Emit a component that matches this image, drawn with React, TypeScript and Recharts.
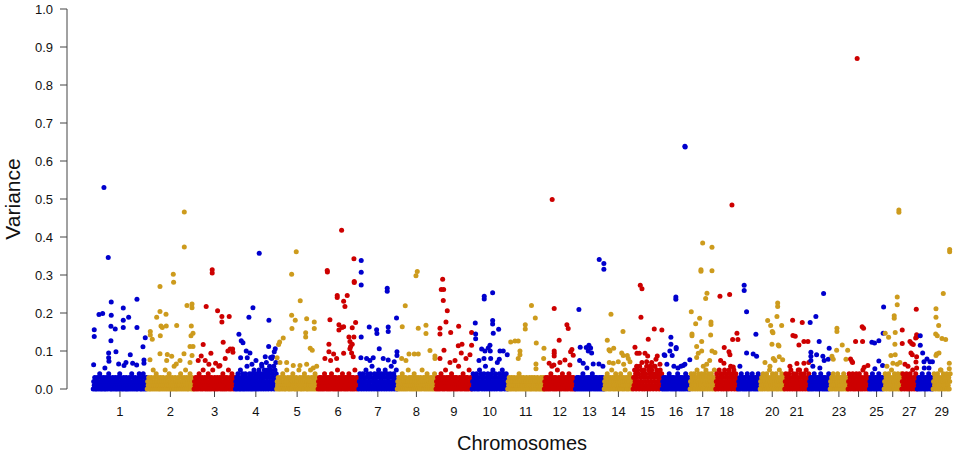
import { ScatterChart, Scatter, XAxis, YAxis, Label } from 'recharts';

const FONT = '"Liberation Sans", Arial, sans-serif';

// chromosomes and their lengths (Mb)
const CHROMOSOMES = [1, 2, 3, 4, 5, 6, 7, 8, 9, 10, 11, 12, 13, 14, 15, 16, 17, 18, 19, 20, 21, 22, 23, 24, 25, 26, 27, 28, 29];
const LENGTHS_MB = [158.3, 137.1, 121.4, 120.7, 121.2, 119.5, 112.6, 113.4, 105.7, 104.3, 107.3, 91.2, 84.2, 84.6, 85.3, 81.7, 75.2, 66.0, 64.1, 72.0, 71.6, 61.4, 52.5, 62.7, 42.9, 51.7, 45.4, 46.3, 51.5];
const TICK_LABELS = ['1', '2', '3', '4', '5', '6', '7', '8', '9', '10', '11', '12', '13', '14', '15', '16', '17', '18', '', '20', '21', '', '23', '', '25', '', '27', '', '29'];
const Y_TICKS = [0, 0.1, 0.2, 0.3, 0.4, 0.5, 0.6, 0.7, 0.8, 0.9, 1.0];
const COLORS = ['#0000CD', '#CD9B1D', '#CD0000'];

// dense low-variance SNPs, in hundredths, evenly along each chromosome
const BAND = [
  [0, 2, 1, 3, 0, 1, 2, 0, 3, 1, 2, 0, 1, 4, 2, 0, 3, 1, 0, 2, 1, 3, 0, 2, 1, 0, 3, 2, 1, 0, 2, 4, 1, 3, 0, 2, 1, 0, 2, 3, 1, 0, 2, 1, 3, 0, 1, 2, 0, 3, 1, 2, 0, 4, 1, 3, 2, 0, 1, 2, 0, 3, 1, 2, 0, 1, 3, 0, 2, 1, 0, 2, 3, 1, 0, 2, 1, 4, 0, 3, 1, 2, 0, 1, 3, 2, 0, 1, 2, 0, 3, 1, 4, 2, 0, 1, 3, 0, 2, 1, 4, 0, 3, 1, 2, 0, 1, 3],
  [0, 2, 1, 3, 0, 1, 2, 0, 3, 1, 2, 0, 5, 1, 3, 0, 2, 1, 4, 0, 2, 1, 3, 0, 1, 2, 0, 3, 1, 2, 0, 1, 3, 2, 0, 1, 5, 2, 0, 3, 1, 2, 0, 1, 4, 3, 0, 2, 1, 0, 3, 1, 2, 0, 6, 1, 3, 0, 2, 1, 0, 2, 3, 1, 0, 2, 1, 4, 0, 3, 1, 2, 0, 1, 3, 2, 0, 5, 1, 3, 0, 2, 1, 0, 3, 2, 4, 1, 0, 2, 3, 1, 0, 2],
  [0, 2, 1, 3, 0, 2, 3, 1, 0, 2, 4, 1, 3, 0, 2, 1, 3, 0, 5, 2, 1, 3, 0, 2, 1, 3, 0, 2, 4, 1, 0, 3, 2, 1, 0, 3, 2, 5, 1, 0, 2, 3, 1, 0, 2, 1, 3, 0, 2, 6, 1, 3, 0, 2, 1, 3, 0, 4, 2, 1, 0, 3, 2, 1, 0, 3, 2, 1, 5, 0, 2, 3, 1, 0, 2, 4, 1, 3, 0, 2, 1, 3],
  [0, 2, 1, 3, 0, 2, 4, 1, 3, 0, 2, 1, 5, 0, 3, 2, 1, 4, 0, 2, 3, 1, 0, 2, 4, 1, 3, 0, 6, 2, 1, 3, 0, 2, 4, 1, 3, 0, 2, 1, 4, 0, 3, 2, 1, 5, 0, 3, 2, 4, 1, 0, 3, 2, 4, 1, 0, 5, 2, 3, 1, 4, 0, 2, 6, 3, 1, 4, 0, 2, 5, 3, 1, 4, 0, 7, 2, 3, 5, 1, 0, 4, 2, 6, 3, 1, 5, 0, 8, 2, 4, 3, 1, 6, 0, 2, 5, 3, 7, 4],
  [0, 2, 1, 3, 0, 1, 2, 0, 3, 1, 2, 0, 4, 1, 2, 0, 3, 1, 0, 2, 5, 1, 3, 0, 2, 1, 0, 3, 2, 1, 0, 2, 4, 1, 3, 0, 2, 1, 0, 3, 2, 1, 0, 2, 5, 1, 3, 0, 2, 1, 0, 3, 2, 1, 0, 4, 2, 1, 3, 0, 2, 1, 0, 3, 1, 2, 0, 5, 1, 3, 0, 2, 1, 3, 0, 2, 4, 1, 0, 3, 2, 1],
  [0, 2, 1, 3, 0, 2, 3, 1, 0, 2, 1, 3, 0, 4, 2, 1, 3, 0, 2, 1, 3, 0, 2, 3, 1, 0, 2, 4, 1, 3, 0, 2, 1, 3, 0, 2, 3, 1, 0, 5, 2, 1, 3, 0, 2, 1, 3, 0, 2, 4, 1, 3, 0, 2, 1, 3, 0, 2, 3, 1, 0, 2, 4, 1, 3, 0, 2, 1, 3, 0, 2, 3, 1, 0, 5, 2, 1, 3, 0, 2, 1, 3],
  [0, 2, 4, 1, 3, 0, 2, 1, 4, 3, 0, 2, 1, 3, 5, 0, 2, 4, 1, 3, 0, 2, 1, 4, 3, 0, 6, 2, 1, 3, 0, 4, 2, 1, 3, 0, 2, 4, 1, 5, 0, 3, 2, 1, 4, 0, 2, 3, 1, 4, 0, 2, 5, 1, 3, 0, 4, 2, 1, 3, 0, 2, 4, 1, 6, 0, 3, 2, 1, 4, 0, 2, 3, 1, 5, 0],
  [0, 2, 1, 3, 0, 2, 1, 3, 0, 2, 4, 1, 0, 3, 2, 1, 0, 3, 2, 1, 0, 2, 5, 1, 3, 0, 2, 1, 3, 0, 2, 1, 3, 0, 4, 2, 1, 0, 3, 2, 1, 0, 3, 2, 1, 0, 2, 3, 1, 0, 5, 2, 1, 3, 0, 2, 1, 3, 0, 2, 4, 1, 0, 3, 2, 1, 0, 2, 3, 1, 0, 2, 1, 3, 0, 4, 2, 1],
  [0, 2, 1, 3, 0, 2, 3, 1, 0, 2, 4, 1, 3, 0, 2, 1, 3, 0, 2, 5, 1, 3, 0, 2, 1, 3, 0, 2, 3, 1, 0, 4, 2, 1, 3, 0, 2, 1, 3, 0, 2, 3, 1, 0, 2, 6, 1, 3, 0, 2, 1, 3, 0, 2, 4, 1, 3, 0, 2, 1, 3, 0, 2, 3, 1, 0, 5, 2, 1, 3, 0, 2],
  [0, 2, 4, 1, 3, 0, 2, 1, 3, 4, 0, 2, 1, 3, 0, 5, 2, 1, 4, 3, 0, 2, 1, 3, 4, 0, 2, 6, 1, 3, 0, 2, 4, 1, 3, 0, 2, 1, 3, 4, 0, 2, 5, 1, 3, 0, 2, 4, 1, 3, 0, 7, 2, 1, 3, 4, 0, 2, 1, 3, 0, 5, 2, 4, 1, 3, 0, 2, 1, 4, 3, 0],
  [0, 2, 1, 3, 0, 1, 2, 0, 3, 1, 2, 0, 1, 3, 2, 0, 1, 2, 0, 3, 1, 2, 0, 4, 1, 2, 0, 3, 1, 2, 0, 1, 3, 2, 0, 1, 2, 0, 3, 1, 2, 0, 1, 2, 3, 0, 1, 2, 0, 3, 1, 2, 0, 1, 3, 2, 0, 1, 2, 0, 3, 1, 2, 0, 1, 2, 0, 3, 1, 2, 0, 1, 3, 0],
  [0, 2, 1, 3, 0, 2, 3, 1, 0, 2, 1, 3, 0, 4, 2, 1, 3, 0, 2, 1, 3, 0, 2, 3, 1, 0, 5, 2, 1, 3, 0, 2, 1, 3, 0, 2, 4, 1, 3, 0, 2, 1, 3, 0, 2, 3, 1, 0, 2, 4, 1, 3, 0, 2, 1, 3, 0, 2, 3, 1, 0, 2],
  [0, 2, 1, 3, 0, 2, 3, 1, 0, 2, 1, 3, 0, 2, 1, 4, 0, 2, 3, 1, 0, 2, 1, 3, 0, 2, 1, 3, 0, 2, 3, 1, 0, 2, 4, 1, 3, 0, 2, 1, 3, 0, 2, 3, 1, 0, 2, 1, 3, 0, 2, 1, 3, 0, 2, 3, 1, 0],
  [0, 2, 1, 3, 0, 2, 4, 1, 3, 0, 2, 1, 3, 0, 2, 5, 1, 3, 0, 2, 1, 3, 0, 4, 2, 1, 3, 0, 2, 3, 1, 0, 2, 4, 1, 3, 0, 2, 1, 3, 0, 2, 5, 1, 3, 0, 2, 1, 3, 0, 2, 4, 1, 3, 0, 2, 1, 3],
  [0, 3, 1, 5, 2, 4, 0, 3, 1, 5, 2, 4, 0, 6, 1, 3, 2, 5, 0, 4, 1, 3, 5, 0, 2, 4, 1, 6, 3, 0, 2, 5, 1, 4, 0, 3, 2, 5, 1, 4, 0, 3, 6, 2, 1, 4, 0, 5, 3, 1, 2, 4, 0, 3, 5, 1, 2, 4],
  [0, 2, 1, 3, 0, 2, 3, 1, 0, 2, 1, 3, 0, 2, 4, 1, 3, 0, 2, 1, 3, 0, 2, 3, 1, 0, 2, 1, 3, 0, 2, 4, 1, 3, 0, 2, 1, 3, 0, 2, 3, 1, 0, 2, 1, 3, 0, 4, 2, 1, 3, 0, 2, 1, 3, 0],
  [0, 2, 4, 1, 3, 0, 2, 1, 4, 3, 0, 2, 1, 3, 5, 0, 2, 4, 1, 3, 0, 2, 1, 4, 3, 0, 2, 1, 3, 4, 0, 2, 5, 1, 3, 0, 2, 4, 1, 3, 0, 2, 1, 4, 3, 0, 2, 1, 3, 5, 0, 2],
  [0, 2, 4, 1, 3, 0, 2, 5, 1, 3, 4, 0, 2, 1, 3, 4, 0, 2, 5, 1, 3, 0, 4, 2, 1, 3, 0, 5, 2, 4, 1, 3, 0, 2, 4, 1, 3, 5, 0, 2, 1, 4, 3, 0, 2, 1],
  [0, 2, 1, 3, 0, 2, 4, 1, 3, 0, 2, 1, 3, 0, 2, 3, 1, 0, 4, 2, 1, 3, 0, 2, 1, 3, 0, 2, 4, 1, 3, 0, 2, 1, 3, 0, 2, 3, 1, 0, 4, 2, 1, 3],
  [0, 2, 1, 3, 0, 2, 4, 1, 3, 0, 2, 1, 3, 4, 0, 2, 1, 3, 0, 5, 2, 1, 3, 0, 2, 4, 1, 3, 0, 2, 1, 3, 4, 0, 2, 1, 3, 0, 2, 5, 1, 3, 0, 2, 4, 1, 3, 0, 2, 1],
  [0, 2, 4, 1, 3, 0, 2, 1, 4, 3, 0, 2, 5, 1, 3, 0, 2, 4, 1, 3, 0, 2, 1, 4, 3, 0, 2, 1, 3, 5, 0, 2, 4, 1, 3, 0, 2, 1, 4, 3, 0, 2, 5, 1, 3, 0, 2, 4],
  [0, 2, 1, 3, 0, 2, 3, 1, 0, 2, 4, 1, 3, 0, 2, 1, 3, 0, 2, 3, 1, 0, 2, 4, 1, 3, 0, 2, 1, 3, 0, 2, 3, 1, 0, 2, 1, 3, 0, 4, 2, 1],
  [0, 2, 1, 3, 0, 2, 4, 1, 3, 0, 2, 1, 3, 0, 2, 4, 1, 3, 0, 2, 1, 3, 0, 2, 3, 1, 0, 4, 2, 1, 3, 0, 2, 1, 3, 0],
  [0, 2, 4, 1, 3, 0, 2, 1, 3, 4, 0, 2, 1, 3, 0, 2, 4, 1, 3, 0, 2, 1, 4, 3, 0, 2, 1, 3, 0, 5, 2, 1, 3, 0, 2, 4, 1, 3, 0, 2, 1, 3],
  [0, 2, 1, 3, 0, 2, 4, 1, 3, 0, 2, 1, 3, 0, 2, 3, 1, 0, 2, 4, 1, 3, 0, 2, 1, 3, 0, 2, 3, 1],
  [0, 2, 4, 1, 3, 0, 2, 1, 3, 4, 0, 2, 1, 3, 0, 5, 2, 1, 3, 0, 2, 4, 1, 3, 0, 2, 1, 3, 4, 0, 2, 1, 3, 0, 2, 4],
  [0, 2, 4, 1, 3, 0, 2, 1, 3, 4, 0, 2, 1, 3, 0, 2, 4, 1, 3, 0, 2, 5, 1, 3, 0, 2, 1, 4, 3, 0],
  [0, 2, 1, 3, 0, 2, 3, 1, 0, 2, 4, 1, 3, 0, 2, 1, 3, 0, 2, 3, 1, 0, 2, 4, 1, 3, 0, 2, 1, 3, 0, 2],
  [0, 2, 4, 1, 3, 0, 2, 1, 3, 4, 0, 2, 1, 3, 0, 5, 2, 1, 3, 0, 2, 4, 1, 3, 0, 2, 1, 3, 4, 0, 2, 1, 3, 0, 2, 4],
];

// SNPs above the band: [position within chromosome (Mb), variance]
const PEAKS: number[][][] = [
  [[3.8, 0.156], [3.8, 0.138], [2, 0.064], [17.6, 0.196], [28.4, 0.199], [32.2, 0.53], [44.8, 0.346], [46, 0.095], [46, 0.082], [46.9, 0.073], [53.6, 0.229], [53.6, 0.194], [52.7, 0.165], [52.7, 0.127], [65.3, 0.158], [67.4, 0.098], [88.8, 0.213], [88.8, 0.181], [88.8, 0.162], [104.6, 0.189], [109.3, 0.09], [128.9, 0.236], [128.9, 0.162], [146.5, 0.111], [153.2, 0.135], [35, 0.055], [75.3, 0.066], [91, 0.062], [96.7, 0.07], [116.3, 0.068], [128, 0.063], [149.4, 0.076], [149.4, 0.068]],
  [[9.7, 0.151], [9.7, 0.142], [15.5, 0.131], [8.8, 0.077], [28.4, 0.189], [38.1, 0.27], [38.1, 0.204], [39, 0.14], [38, 0.093], [59.5, 0.091], [72.4, 0.086], [57.7, 0.075], [41, 0.166], [44.8, 0.162], [55.7, 0.197], [56.5, 0.166], [77, 0.302], [78, 0.281], [87, 0.167], [85.8, 0.066], [96.7, 0.075], [108.4, 0.093], [109.3, 0.466], [109.3, 0.374], [117.2, 0.22], [131.9, 0.224], [131.9, 0.214], [129.8, 0.166], [134.8, 0.147], [128.9, 0.14], [126, 0.112], [134.8, 0.112], [131.9, 0.088], [126, 0.07]],
  [[27.5, 0.117], [36.3, 0.217], [53.9, 0.314], [53.9, 0.305], [69.7, 0.206], [82.3, 0.191], [82.3, 0.176], [86.1, 0.123], [103.7, 0.191], [99.9, 0.1], [106.7, 0.105], [113.7, 0.105], [114.6, 0.097], [12.9, 0.075], [33.4, 0.075], [21.7, 0.087], [44.2, 0.065], [63.9, 0.068], [76.5, 0.062], [92, 0.08], [50.1, 0.094]],
  [[10.8, 0.144], [17.6, 0.127], [22.6, 0.122], [32.2, 0.1], [43.1, 0.095], [40.1, 0.189], [51.9, 0.214], [70.3, 0.357], [98.7, 0.181], [97.9, 0.112], [117.2, 0.106], [114.3, 0.098], [109.6, 0.085], [15.8, 0.082], [35.2, 0.082], [48.9, 0.065], [60.7, 0.075], [77.4, 0.065], [87.9, 0.085], [103.7, 0.083]],
  [[6.4, 0.117], [9.4, 0.124], [19.9, 0.134], [44.5, 0.302], [44.5, 0.194], [45.4, 0.159], [55.1, 0.181], [58, 0.361], [69.7, 0.232], [85.6, 0.148], [85.6, 0.137], [88.5, 0.185], [99, 0.107], [104.9, 0.102], [110.8, 0.176], [110.8, 0.159], [2, 0.082], [10.3, 0.07], [29.9, 0.07], [49.2, 0.062], [68.9, 0.062], [88.5, 0.065], [107.8, 0.055], [117.8, 0.06]],
  [[27.5, 0.312], [28, 0.308], [32.5, 0.118], [35.5, 0.182], [56.8, 0.246], [56.8, 0.241], [61.8, 0.169], [69.7, 0.418], [70.6, 0.162], [61.8, 0.155], [75.6, 0.231], [75.6, 0.164], [79.4, 0.217], [86.1, 0.246], [91.1, 0.137], [94.1, 0.125], [96.1, 0.112], [100.8, 0.118], [94, 0.106], [100.8, 0.161], [105.8, 0.343], [106.7, 0.283], [106.7, 0.28], [105.8, 0.137], [110.7, 0.175], [32.5, 0.098], [46.3, 0.092], [75.6, 0.094], [99, 0.095], [103.7, 0.085], [20.8, 0.08], [37.5, 0.075], [55.1, 0.08]],
  [[7.6, 0.338], [7.6, 0.307], [7.6, 0.274], [7.6, 0.137], [31.1, 0.163], [52.7, 0.156], [53.6, 0.146], [60.4, 0.106], [83.8, 0.265], [83.8, 0.257], [86.7, 0.163], [86.7, 0.151], [111, 0.187], [112.3, 0.098], [112.3, 0.088], [6.7, 0.082], [23.4, 0.08], [33.1, 0.075], [42.8, 0.082], [72.1, 0.08], [86.7, 0.076], [104.3, 0.072]],
  [[15.2, 0.164], [24, 0.219], [34.9, 0.092], [50.4, 0.092], [62.1, 0.092], [13.5, 0.08], [26, 0.075], [55.4, 0.298], [59.2, 0.309], [62.1, 0.16], [84.7, 0.168], [84.7, 0.146], [96.4, 0.101], [111, 0.087], [111, 0.08]],
  [[12.3, 0.16], [12.3, 0.145], [16.1, 0.262], [23.1, 0.262], [20.2, 0.289], [22, 0.233], [24, 0.102], [29.9, 0.176], [33.7, 0.206], [43.7, 0.149], [65.9, 0.114], [67.1, 0.165], [76.8, 0.118], [74.7, 0.095], [88.5, 0.08], [100.2, 0.09], [105, 0.115], [105, 0.149], [12.3, 0.08], [41.6, 0.07], [56.3, 0.075]],
  [[10, 0.174], [11.1, 0.145], [11.1, 0.132], [36.3, 0.244], [36.3, 0.237], [28.7, 0.105], [38.4, 0.1], [53, 0.115], [60.9, 0.253], [60.9, 0.18], [60.9, 0.171], [62.7, 0.147], [48.1, 0.108], [53.9, 0.1], [78.5, 0.157], [82.3, 0.1], [92, 0.1], [103.7, 0.09], [20.8, 0.075], [35.5, 0.08], [55.1, 0.08], [80.3, 0.078]],
  [[9.4, 0.124], [22, 0.126], [31.6, 0.126], [36.6, 0.1], [36.6, 0.09], [31.6, 0.08], [52.2, 0.169], [52.2, 0.158], [70.3, 0.22], [81.5, 0.187], [84.4, 0.121], [83.5, 0.066], [83.5, 0.053], [106, 0.08], [107, 0.107]],
  [[23.7, 0.499], [29.6, 0.212], [29.6, 0.1], [29.6, 0.094], [29.6, 0.087], [44.2, 0.128], [66.8, 0.169], [70.6, 0.159], [81.5, 0.104], [77.6, 0.098], [85.3, 0.089], [28.7, 0.063], [46.3, 0.07], [61, 0.076], [75.6, 0.063], [14.9, 0.068], [22.9, 0.06]],
  [[10.8, 0.209], [12.9, 0.075], [23.4, 0.068], [40.1, 0.115], [32.2, 0.109], [45.1, 0.108], [14.6, 0.11], [38.1, 0.1], [48.1, 0.095], [70.3, 0.341], [83.9, 0.33], [83.9, 0.315], [52.7, 0.066], [69.4, 0.066], [81.1, 0.06], [34.3, 0.055]],
  [[9.7, 0.128], [20.5, 0.197], [28.4, 0.107], [14.7, 0.103], [17.6, 0.1], [55.7, 0.151], [51.9, 0.095], [56.5, 0.088], [68.3, 0.088], [71.2, 0.08], [76.2, 0.072], [15.5, 0.07], [27.2, 0.068], [41.9, 0.072], [57.7, 0.065]],
  [[6.2, 0.11], [21.7, 0.273], [26.7, 0.264], [23.7, 0.189], [12, 0.094], [18.8, 0.094], [35.5, 0.094], [43.4, 0.087], [71.5, 0.087], [67.7, 0.078], [55.1, 0.07], [45.1, 0.131], [62.7, 0.158], [85, 0.155], [26.7, 0.07], [40.4, 0.072], [50.1, 0.06], [64.8, 0.06], [79.4, 0.065], [11.1, 0.06]],
  [[6.4, 0.09], [8.5, 0.088], [29.9, 0.088], [23.1, 0.1], [26.1, 0.136], [26.1, 0.118], [40.7, 0.242], [40.7, 0.236], [41.6, 0.109], [41.6, 0.106], [67.1, 0.639], [68, 0.637], [55.4, 0.06], [62.1, 0.062], [67.1, 0.065], [81.5, 0.077], [14.4, 0.065], [34.9, 0.06], [46.6, 0.055]],
  [[4.1, 0.203], [6.2, 0.145], [6.2, 0.14], [17, 0.172], [19.9, 0.083], [24.6, 0.094], [19.9, 0.112], [28.7, 0.186], [32.5, 0.314], [32.5, 0.31], [37.5, 0.384], [34.6, 0.125], [34.6, 0.1], [46.3, 0.238], [50.1, 0.252], [60.9, 0.142], [61.8, 0.176], [61.8, 0.17], [64.8, 0.373], [64.8, 0.311], [64.8, 0.1], [73.5, 0.096], [39.3, 0.06], [58, 0.075], [49.2, 0.065]],
  [[12.9, 0.244], [25.5, 0.109], [39.3, 0.098], [42.2, 0.09], [41.3, 0.249], [48.1, 0.484], [50.1, 0.13], [62.7, 0.147], [65.5, 0.13], [14.9, 0.075], [24.6, 0.068], [44.2, 0.06], [51.9, 0.058]],
  [[17.9, 0.273], [17.9, 0.259], [24.9, 0.203], [24.9, 0.095], [44.2, 0.092], [54.2, 0.086], [52.2, 0.144], [5.3, 0.06]],
  [[22.6, 0.18], [31.4, 0.167], [36, 0.151], [38.1, 0.148], [35.2, 0.118], [49.8, 0.191], [51.9, 0.226], [51.9, 0.217], [53.6, 0.116], [55.7, 0.113], [56.5, 0.085], [63.6, 0.167], [14.7, 0.07], [39, 0.08], [44, 0.075], [66.5, 0.077], [29.3, 0.06]],
  [[23.7, 0.181], [24.6, 0.141], [31.4, 0.139], [42.2, 0.116], [51.9, 0.175], [56.8, 0.125], [68.6, 0.125], [56.8, 0.068], [71, 0.07], [36.3, 0.067], [40.1, 0.05], [15.8, 0.06]],
  [[3.5, 0.175], [5.6, 0.097], [5.6, 0.086], [5.6, 0.075], [20.2, 0.191], [22.3, 0.09], [29.9, 0.125], [42.8, 0.251], [40.7, 0.086], [44.5, 0.075], [56.3, 0.078], [59.2, 0.107], [11.4, 0.06], [31.9, 0.055]],
  [[5.9, 0.086], [9.7, 0.078], [19.6, 0.102], [20.5, 0.16], [20.5, 0.151], [36, 0.116], [46.9, 0.078], [52, 0.102]],
  [[7.9, 0.079], [11.7, 0.073], [13.8, 0.07], [22.6, 0.125], [27.2, 0.87], [41.9, 0.164], [46, 0.16], [43.1, 0.125], [47.8, 0.057], [58.6, 0.062]],
  [[7.6, 0.123], [15.5, 0.121], [28.1, 0.127], [16.4, 0.053], [28.1, 0.074], [39, 0.062], [40.7, 0.147], [42, 0.216]],
  [[3.8, 0.147], [13.8, 0.136], [20.5, 0.088], [30.2, 0.193], [30.2, 0.186], [32.2, 0.118], [33.1, 0.149], [33.1, 0.09], [39, 0.242], [39, 0.222], [39, 0.065], [43.9, 0.471], [43.9, 0.465], [8.8, 0.06], [26.4, 0.068], [46.9, 0.07]],
  [[2, 0.155], [2, 0.12], [24.6, 0.125], [29.6, 0.12], [34.3, 0.117], [27.5, 0.095], [31.4, 0.09], [44, 0.085], [42.2, 0.071], [44.2, 0.055], [43.1, 0.21], [44.2, 0.143], [44.2, 0.137], [41.3, 0.134], [10, 0.065], [18.8, 0.06]],
  [[9.4, 0.14], [9.4, 0.115], [16.4, 0.095], [29, 0.079], [20.2, 0.072], [37.8, 0.072], [45, 0.072], [21.1, 0.055], [34.9, 0.055]],
  [[8.2, 0.145], [12.9, 0.14], [9.1, 0.211], [9.1, 0.189], [17, 0.167], [17.9, 0.095], [11.1, 0.092], [9.1, 0.088], [23.7, 0.05], [26.7, 0.133], [37.5, 0.13], [30.5, 0.251], [48.1, 0.068], [48.1, 0.053], [49.2, 0.367], [49.2, 0.361]],
];

const OFFSETS: number[] = [];
LENGTHS_MB.reduce((acc, len) => {
  OFFSETS.push(acc);
  return acc + len;
}, 0);

const TICKS = LENGTHS_MB.map((len, k) => OFFSETS[k] + len / 2);

const SERIES = CHROMOSOMES.map((chr, k) => {
  const start = OFFSETS[k];
  const len = LENGTHS_MB[k];
  const band = BAND[k].map((v, i) => ({ x: start + ((i + 0.5) / BAND[k].length) * len, y: v / 100 }));
  const peaks = PEAKS[k].map(([pos, v]) => ({ x: start + pos, y: v }));
  return { chr, color: COLORS[k % 3], points: [...band, ...peaks] };
});

const dot = (color: string) => (props: any) => <circle cx={props.cx} cy={props.cy} r={2.5} fill={color} />;

const App = () => {
  return (
    <div style={{ position: 'absolute', left: 0, top: 0, background: '#fff' }}>
      <ScatterChart width={957} height={454} margin={{ top: 9, right: 0, bottom: 0, left: 0 }}>
        <XAxis
          type="number"
          dataKey="x"
          domain={[-76, 2531]}
          allowDataOverflow
          ticks={TICKS}
          interval={0}
          tickFormatter={(v: number) => TICK_LABELS[TICKS.indexOf(v)] ?? ''}
          axisLine={false}
          tickLine={{ stroke: '#444' }}
          tickSize={8}
          tickMargin={10}
          height={65}
          tick={{ fill: '#111', fontSize: 13, fontFamily: FONT }}
        >
          <Label
            content={() => (
              <text x={522} y={450} textAnchor="middle" fontSize={20} fontFamily={FONT} fill="#111">
                Chromosomes
              </text>
            )}
          />
        </XAxis>
        <YAxis
          type="number"
          dataKey="y"
          domain={[0, 1]}
          ticks={Y_TICKS}
          interval={0}
          tickFormatter={(v: number) => v.toFixed(1)}
          width={67}
          tickSize={7}
          tickMargin={7}
          axisLine={{ stroke: '#444' }}
          tickLine={{ stroke: '#444' }}
          tick={{ fill: '#111', fontSize: 13, fontFamily: FONT }}
        >
          <Label
            content={() => (
              <text x={20} y={199} transform="rotate(-90 20 199)" textAnchor="middle" fontSize={21} fontFamily={FONT} fill="#111">
                Variance
              </text>
            )}
          />
        </YAxis>
        {SERIES.map((s) => (
          <Scatter key={s.chr} name={`Chr ${s.chr}`} data={s.points} fill={s.color} shape={dot(s.color)} isAnimationActive={false} />
        ))}
      </ScatterChart>
    </div>
  );
};

export default App;
